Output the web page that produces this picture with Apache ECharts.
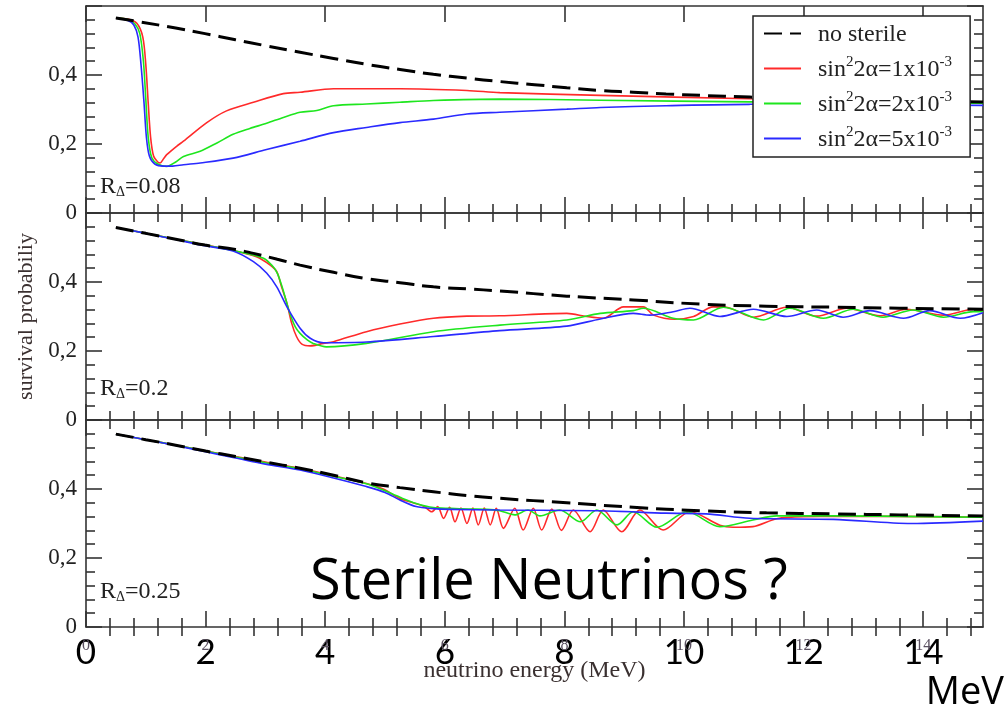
<!DOCTYPE html>
<html><head><meta charset="utf-8">
<script src="https://cdn.jsdelivr.net/npm/echarts@6/dist/echarts.min.js"></script>
<style>html,body{margin:0;padding:0;background:#fff}#c{width:1005px;height:708px}</style>
</head><body><div id="c"></div>
<script>
// ---------- tick labels / names ----------
const xMajor = [0, 2, 4, 6, 8, 10, 12, 14];
const panelR = ['0.08', '0.2', '0.25'];
const coeffs = ['1', '2', '5'];
const seriesNames = ['no sterile', 'sin²2α=1x10⁻³', 'sin²2α=2x10⁻³', 'sin²2α=5x10⁻³'];

// ---------- panel 1 (R_Δ = 0.08) ----------
const p1NoSterile = [[0.5,0.565],[0.9,0.554],[1.5,0.536],[1.99,0.52],[2.5,0.502],[3,0.485],[3.58,0.466],[4.14,0.448],[4.69,0.431],[5.25,0.416],[5.81,0.402],[6.37,0.391],[6.92,0.381],[7.5,0.372],[8.04,0.363],[8.6,0.355],[9.15,0.35],[9.7,0.345],[10.27,0.341],[11.1,0.336],[12,0.331],[13,0.327],[14,0.324],[15,0.322]];
const p1Red = [[0.5,0.565],[0.7,0.562],[0.85,0.55],[0.95,0.51],[1.0,0.43],[1.04,0.32],[1.08,0.22],[1.13,0.165],[1.2,0.148],[1.24,0.145],[1.3,0.158],[1.35,0.169],[1.52,0.194],[1.63,0.208],[2.02,0.262],[2.35,0.296],[2.8,0.321],[3.3,0.346],[3.58,0.35],[4.14,0.36],[5.25,0.36],[6.37,0.355],[6.92,0.349],[8.6,0.341],[11.1,0.331],[13,0.326],[15,0.322]];
const p1Green = [[0.5,0.565],[0.7,0.561],[0.82,0.548],[0.9,0.52],[0.96,0.44],[1.0,0.33],[1.04,0.22],[1.1,0.16],[1.2,0.142],[1.35,0.135],[1.5,0.148],[1.63,0.164],[1.91,0.179],[2.19,0.203],[2.46,0.228],[2.74,0.245],[3.02,0.26],[3.3,0.277],[3.58,0.292],[3.86,0.297],[4.14,0.311],[4.69,0.316],[5.25,0.321],[5.81,0.326],[6.92,0.33],[8.6,0.327],[11.1,0.322],[13,0.32],[15,0.318]];
const p1Blue = [[0.5,0.565],[0.7,0.558],[0.8,0.545],[0.87,0.51],[0.92,0.43],[0.97,0.32],[1.01,0.22],[1.06,0.165],[1.15,0.142],[1.3,0.136],[1.45,0.136],[1.63,0.14],[1.91,0.145],[2.46,0.159],[3.02,0.184],[3.58,0.208],[4.14,0.233],[4.69,0.248],[5.25,0.262],[5.81,0.272],[6.37,0.287],[6.92,0.292],[8.04,0.301],[8.6,0.306],[9.7,0.311],[11.1,0.315],[13,0.314],[15,0.312]];

// ---------- panel 2 (R_Δ = 0.2) ----------
const p2NoSterile = [[0.5,0.558],[1,0.541],[1.5,0.524],[1.99,0.507],[2.5,0.494],[2.8,0.483],[3.2,0.466],[3.58,0.449],[4.14,0.428],[4.69,0.41],[5.25,0.398],[5.81,0.386],[6.37,0.38],[6.92,0.374],[8.04,0.359],[9.15,0.348],[10.27,0.336],[11.38,0.33],[12.5,0.327],[13.6,0.324],[15,0.321]];
const p2Red = [[0.5,0.558],[1,0.541],[1.5,0.524],[1.99,0.507],[2.5,0.49],[2.85,0.473],[3.08,0.449],[3.19,0.43],[3.27,0.386],[3.36,0.338],[3.44,0.28],[3.52,0.242],[3.61,0.22],[3.75,0.215],[3.97,0.222],[4.14,0.227],[4.69,0.256],[5.25,0.278],[5.81,0.295],[6.37,0.301],[6.92,0.302],[8.04,0.309],[8.37,0.3],[8.65,0.295],[8.99,0.328],[9.32,0.328],[9.49,0.304],[9.85,0.292],[10.16,0.3],[10.49,0.328],[10.71,0.327],[11.16,0.298],[11.72,0.327],[12.22,0.301],[12.72,0.324],[13.28,0.302],[13.72,0.321],[14.34,0.304],[14.84,0.321],[15,0.319]];
const p2Green = [[0.5,0.558],[1,0.541],[1.5,0.524],[1.99,0.507],[2.5,0.49],[2.97,0.469],[3.13,0.444],[3.2,0.425],[3.27,0.391],[3.34,0.35],[3.41,0.309],[3.5,0.27],[3.58,0.251],[3.7,0.232],[3.8,0.222],[4.02,0.212],[4.69,0.222],[5.81,0.256],[6.92,0.275],[8.04,0.29],[8.6,0.309],[9.15,0.317],[9.32,0.324],[9.82,0.295],[10.16,0.29],[10.66,0.327],[11.33,0.29],[11.77,0.324],[12.33,0.295],[12.83,0.321],[13.33,0.298],[13.83,0.319],[14.34,0.298],[14.84,0.314],[15,0.314]];
const p2Blue = [[0.5,0.558],[1,0.541],[1.5,0.523],[1.99,0.505],[2.46,0.49],[2.8,0.459],[3.02,0.426],[3.19,0.386],[3.36,0.328],[3.58,0.266],[3.75,0.237],[3.97,0.224],[4.69,0.226],[5.81,0.242],[6.92,0.259],[8.04,0.272],[8.6,0.293],[9.15,0.309],[9.43,0.304],[9.82,0.314],[10.1,0.324],[10.6,0.3],[11.16,0.321],[11.72,0.3],[12.22,0.319],[12.66,0.298],[13.11,0.317],[13.67,0.295],[14.11,0.317],[14.62,0.295],[15,0.311]];

// ---------- panel 3 (R_Δ = 0.25) ----------
const p3NoSterile = [[0.5,0.559],[1,0.543],[1.5,0.527],[2,0.51],[2.5,0.494],[3,0.478],[3.58,0.46],[4.14,0.44],[4.69,0.418],[5.25,0.404],[5.81,0.392],[6.37,0.381],[6.92,0.373],[8.04,0.36],[9.15,0.347],[10.27,0.337],[11.38,0.331],[12.5,0.328],[13.6,0.325],[15,0.322]];
const p3Red = [[0.5,0.559],[1,0.543],[1.5,0.527],[2,0.51],[2.5,0.494],[3,0.478],[3.58,0.46],[4.14,0.438],[4.69,0.416],[4.97,0.4],[5.25,0.372],[5.47,0.36],[5.65,0.35],[5.78,0.334],[5.88,0.349],[5.98,0.315],[6.08,0.347],[6.17,0.305],[6.27,0.345],[6.37,0.3],[6.47,0.345],[6.56,0.296],[6.66,0.345],[6.76,0.296],[6.86,0.344],[6.98,0.286],[7.17,0.344],[7.31,0.281],[7.48,0.344],[7.62,0.281],[7.79,0.342],[7.95,0.28],[8.15,0.339],[8.43,0.276],[8.65,0.339],[8.96,0.276],[9.26,0.339],[9.65,0.281],[10.1,0.334],[10.6,0.295],[10.82,0.289],[11.15,0.291],[11.55,0.314],[12,0.32],[13,0.321],[14,0.32],[15,0.318]];
const p3Green = [[0.5,0.559],[1,0.543],[1.5,0.527],[2,0.51],[2.5,0.493],[3,0.476],[3.58,0.458],[4.14,0.437],[4.69,0.415],[4.97,0.397],[5.25,0.376],[5.52,0.358],[5.81,0.346],[6.1,0.344],[6.4,0.342],[6.7,0.341],[6.92,0.337],[7.17,0.325],[7.39,0.339],[7.59,0.322],[7.92,0.339],[8.27,0.305],[8.54,0.339],[8.88,0.296],[9.15,0.334],[9.55,0.289],[10.05,0.334],[10.6,0.291],[11.15,0.31],[11.55,0.322],[12.5,0.322],[14,0.32],[15,0.318]];
const p3Blue = [[0.5,0.559],[1,0.543],[1.5,0.526],[2,0.508],[2.5,0.49],[3,0.472],[3.58,0.455],[4.14,0.432],[4.69,0.407],[5.0,0.39],[5.25,0.368],[5.52,0.349],[5.81,0.343],[6.1,0.341],[6.92,0.339],[8.6,0.337],[9.7,0.33],[10.37,0.328],[11.1,0.315],[12.5,0.312],[13.8,0.3],[15,0.307]];

// ---------- build ----------
const panels = [
  [p1NoSterile, p1Red, p1Green, p1Blue],
  [p2NoSterile, p2Red, p2Green, p2Blue],
  [p3NoSterile, p3Red, p3Green, p3Blue]
];
const colors = ['#000000', '#ff2a2a', '#1ee61e', '#2a2aff'];
const axisColor = '#333';
const serif = 'Liberation Serif';
const gridTops = [6, 213, 420];

const xMinor = [];
for (let k = 1; k < 38; k++) { const v = Math.round(k * 4) / 10; if (v % 2 !== 0 && v < 15) xMinor.push(v); }

const lineSt = { color: axisColor, width: 1.6 };
const grids = gridTops.map(t => ({ left: 86, right: 22, top: t, height: 207 }));

const xAxes = [];
const yAxes = [];
gridTops.forEach((t, i) => {
  const last = i === 2;
  const base = { gridIndex: i, type: 'value', min: 0, max: 15, splitLine: { show: false },
    axisLine: { show: true, onZero: false, lineStyle: lineSt } };
  xAxes.push({ ...base, position: 'bottom',
    axisTick: { show: true, inside: true, length: 16, customValues: xMajor, lineStyle: lineSt },
    axisLabel: last ? { show: true, customValues: xMajor, margin: 8, fontFamily: 'Lato', fontSize: 35, color: '#000' } : { show: false } });
  xAxes.push({ ...base, position: 'bottom', axisLine: { show: false },
    axisTick: { show: true, inside: true, length: 9, customValues: xMinor, lineStyle: lineSt },
    axisLabel: last ? { show: true, customValues: xMajor, margin: 11, fontFamily: serif, fontSize: 16, color: '#5a5060' } : { show: false },
    name: last ? 'neutrino energy (MeV)' : '', nameLocation: 'middle', nameGap: 32,
    nameTextStyle: { fontFamily: serif, fontSize: 24, color: '#3a3030' } });
  xAxes.push({ ...base, position: 'top',
    axisTick: { show: true, inside: true, length: 16, customValues: xMajor, lineStyle: lineSt },
    axisLabel: { show: false } });
  xAxes.push({ ...base, position: 'top', axisLine: { show: false },
    axisTick: { show: true, inside: true, length: 9, customValues: xMinor, lineStyle: lineSt },
    axisLabel: { show: false } });

  const yb = { gridIndex: i, type: 'value', min: 0, max: 0.6, interval: 0.2, splitLine: { show: false },
    axisLine: { show: true, onZero: false, lineStyle: lineSt },
    axisTick: { show: true, inside: true, length: 16, lineStyle: lineSt },
    minorTick: { show: true, splitNumber: 5, length: 9, lineStyle: lineSt },
    minorSplitLine: { show: false } };
  yAxes.push({ ...yb, position: 'left',
    axisLabel: { margin: 9, fontFamily: serif, fontSize: 23, color: '#222',
      formatter: v => v > 0.59 ? '' : (v === 0 ? '0' : v.toFixed(1).replace('.', ',')) },
    name: i === 1 ? 'survival probabiliy' : '', nameLocation: 'middle', nameGap: 48,
    nameTextStyle: { fontFamily: serif, fontSize: 22, color: '#3a3030' } });
  yAxes.push({ ...yb, position: 'right', axisLabel: { show: false } });
});

const series = [];
panels.forEach((p, i) => {
  p.forEach((d, k) => {
    series.push({
      type: 'line', name: seriesNames[k], xAxisIndex: i * 4, yAxisIndex: i * 2,
      data: d, symbol: 'none', smooth: k ? 0.3 : 0.5, clip: true,
      z: k ? 2 : 3,
      lineStyle: { color: colors[k], width: k ? 1.6 : 3, type: k ? 'solid' : [18, 8] },
      itemStyle: { color: colors[k] }
    });
  });
});

const rLabel = { r: { fontFamily: serif, fontWeight: 'normal', fontSize: 24, color: '#222', lineHeight: 24, verticalAlign: 'top' },
                 d: { fontFamily: serif, fontWeight: 'normal', fontSize: 14, color: '#222', lineHeight: 14, padding: [16, 0, 0, 0], verticalAlign: 'bottom' } };
const rTops = [175, 377, 580];
const titles = panelR.map((r, i) => ({ text: '{r|R}{d|Δ}{r|=' + r + '}', left: 100, top: rTops[i], padding: 0,
  textStyle: { fontWeight: 'normal', rich: rLabel } }));
titles.push({ text: 'Sterile Neutrinos ?', left: 310, top: 555, padding: 0,
  textStyle: { fontFamily: 'Open Sans', fontWeight: 'normal', fontSize: 56, lineHeight: 56, color: '#000' } });
titles.push({ text: 'MeV', right: 1, top: 674, padding: 0,
  textStyle: { fontFamily: 'Open Sans', fontWeight: 'normal', fontSize: 38, lineHeight: 38, color: '#000' } });

const option = {
  animation: false,
  backgroundColor: '#fff',
  title: titles,
  grid: grids,
  xAxis: xAxes,
  yAxis: yAxes,
  legend: {
    data: seriesNames, orient: 'vertical', left: 753, top: 16, z: 10,
    padding: [7, 18, 5, 10], itemWidth: 37, itemHeight: 14, itemGap: 8,
    backgroundColor: '#fff', borderColor: '#222', borderWidth: 1.5,
    itemStyle: { opacity: 0 },
    formatter: name => {
      const k = seriesNames.indexOf(name);
      if (k === 0) return '{a|' + name + '}';
      return '{a|sin}{s|2}{n|2α=' + coeffs[k - 1] + 'x10}{s|-3}';
    },
    textStyle: { rich: {
      a: { fontFamily: serif, fontSize: 24, color: '#222', lineHeight: 27, verticalAlign: 'bottom', padding: [0, 0, 0, 12] },
      n: { fontFamily: serif, fontSize: 24, color: '#222', lineHeight: 27, verticalAlign: 'bottom' },
      s: { fontFamily: serif, fontSize: 15, color: '#222', lineHeight: 15, verticalAlign: 'top' }
    } }
  },
  series: series
};
const chart = echarts.init(document.getElementById('c'), null, { renderer: 'canvas' });
chart.setOption(option);
</script></body></html>
